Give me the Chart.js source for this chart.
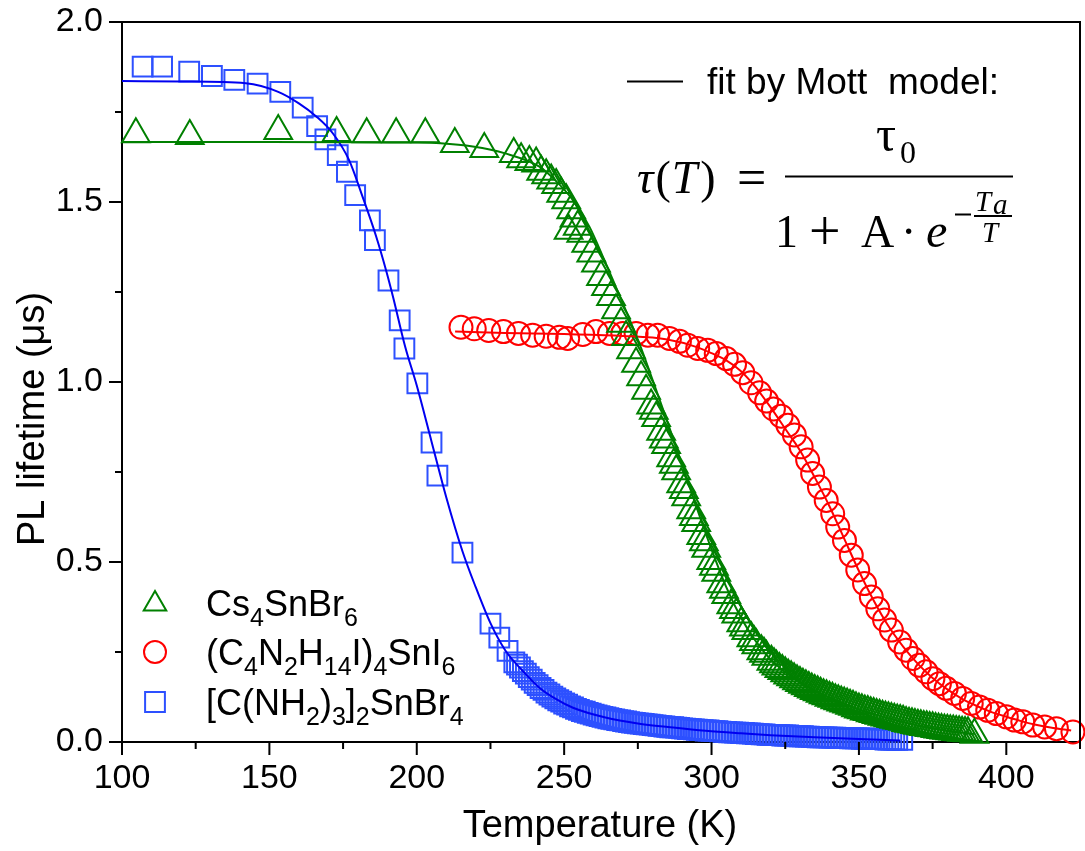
<!DOCTYPE html>
<html lang="en">
<head>
<meta charset="UTF-8">
<title>PL lifetime vs temperature</title>
<script src="https://cdn.jsdelivr.net/npm/chart.js@4"></script>
<style>
  html, body { margin: 0; padding: 0; background: #fff; }
  #wrap { width: 1085px; height: 851px; }
</style>
</head>
<body>
<div id="wrap"><canvas id="plChart" width="1085" height="851"></canvas></div>
<script>
// axis ticks
const xTicks = [100, 150, 200, 250, 300, 350, 400];
const xMinor = [125, 175, 225, 275, 325, 375, 425];
const yTicks = [0, 0.5, 1.0, 1.5, 2.0];
const yMinor = [0.25, 0.75, 1.25, 1.75];

// Cs4SnBr6 (green triangles)
const cs4T = [104.7, 123.0, 153.0, 172.8, 183.0, 193.0, 202.9, 212.9, 222.9, 232.9,
  235.4, 238.2, 240.5, 242.2, 243.9, 245.6, 247.3, 249.0, 250.7, 251.5,
  252.4, 253.5, 254.6, 255.8, 257.5, 259.2, 260.8, 262.5, 264.2, 265.9,
  267.6, 269.3, 271.0, 272.7, 274.4, 276.1, 277.8, 279.5, 281.2, 282.9,
  284.6, 286.3, 288.0, 289.7, 291.4, 293.1, 294.8, 296.5, 298.2, 299.9,
  301.6, 303.3, 305.0, 306.7, 308.4, 310.1, 311.8, 313.5, 315.2, 316.9,
  318.6, 320.3, 322.0, 324, 326, 328, 330, 332, 334, 336,
  338, 340, 342, 344, 346, 348, 350, 352, 354, 356,
  358, 360, 362, 364, 366, 368, 370, 372, 374, 376,
  378, 380, 382, 384, 386, 389.2];
const cs4Tau = [1.688, 1.683, 1.697, 1.692, 1.688, 1.688, 1.688, 1.661, 1.647, 1.633,
  1.619, 1.611, 1.607, 1.584, 1.574, 1.560, 1.547, 1.523, 1.505, 1.420,
  1.477, 1.454, 1.431, 1.412, 1.384, 1.357, 1.329, 1.292, 1.264, 1.236,
  1.199, 1.162, 1.125, 1.088, 1.051, 1.013, 0.976, 0.935, 0.900, 0.862,
  0.825, 0.788, 0.752, 0.716, 0.680, 0.644, 0.608, 0.572, 0.537, 0.503,
  0.470, 0.438, 0.408, 0.380, 0.354, 0.330, 0.308, 0.288, 0.269, 0.252,
  0.237, 0.223, 0.210, 0.197, 0.185, 0.174, 0.164, 0.155, 0.146, 0.138,
  0.130, 0.123, 0.116, 0.110, 0.104, 0.098, 0.090, 0.085, 0.080, 0.075,
  0.070, 0.066, 0.062, 0.058, 0.053, 0.049, 0.045, 0.042, 0.039, 0.036,
  0.033, 0.031, 0.029, 0.027, 0.025, 0.020];
// second, interleaved run of the dense part
const cs4T2 = [280.4, 283.8, 287.2, 290.6, 294.0, 297.4, 300.8, 304.2, 307.6, 311.0, 314.4, 317.8, 321.2,
  323, 325, 327, 329, 331, 333, 335, 337, 339, 341, 343, 345, 347, 349, 351, 353, 355,
  357, 359, 361, 363, 365, 367, 369, 371, 373, 375, 377, 379, 381, 383, 385, 387];
const cs4Tau2 = [0.920, 0.840, 0.770, 0.700, 0.625, 0.555, 0.487, 0.423, 0.367, 0.318, 0.278, 0.245, 0.216,
  0.203, 0.191, 0.180, 0.169, 0.159, 0.150, 0.142, 0.134, 0.127, 0.120, 0.113, 0.107, 0.101, 0.094, 0.088, 0.083, 0.078,
  0.073, 0.068, 0.064, 0.060, 0.056, 0.051, 0.047, 0.044, 0.041, 0.038, 0.035, 0.032, 0.030, 0.028, 0.026, 0.024];
const cs4FitT = [100, 150, 200, 208, 219, 230, 241.6, 247, 252.9, 258.6, 264.1, 269.9, 275.5, 281.2,
  285, 290, 295, 300, 305, 310, 315, 320, 330, 340, 350, 360, 370, 380, 389];
const cs4FitTau = [1.667, 1.667, 1.665, 1.663, 1.654, 1.635, 1.598, 1.560, 1.506, 1.431, 1.330, 1.219, 1.107, 0.978,
  0.890, 0.770, 0.650, 0.535, 0.430, 0.345, 0.280, 0.230, 0.165, 0.123, 0.090, 0.066, 0.046, 0.032, 0.022];

// (C4N2H14I)4SnI6 (red circles)
const snI6T = [215.0, 219.5, 224.4, 229.4, 234.5, 239.3, 243.9, 248.4, 251.2, 256.3,
  260.8, 265.4, 269.9, 274.4, 278.4, 281.7, 285.7, 289.1, 291.9, 295.3,
  298.7, 301.6, 305.0, 307.8, 310.6, 313.4, 316.3, 318.7, 321.0, 323.6,
  325.9, 328.1, 330.4, 332.6, 334.3, 336.6, 338.9, 341.1, 342.8, 345.1,
  347.4, 349.6, 351.9, 354.2, 356.4, 358.7, 361.0, 363.8, 366.0, 368.3,
  370.5, 372.8, 375.1, 377.3, 379.6, 382.4, 385.2, 388.1, 390.9, 393.7,
  396.6, 400.0, 402.8, 405.6, 409.0, 413.0, 417.0, 422.6];
const snI6Tau = [1.152, 1.148, 1.143, 1.140, 1.135, 1.130, 1.127, 1.124, 1.121, 1.132,
  1.140, 1.135, 1.135, 1.135, 1.130, 1.130, 1.121, 1.113, 1.102, 1.093,
  1.088, 1.079, 1.065, 1.049, 1.026, 0.998, 0.970, 0.947, 0.925, 0.905,
  0.880, 0.853, 0.820, 0.783, 0.746, 0.708, 0.671, 0.634, 0.597, 0.560,
  0.519, 0.478, 0.440, 0.403, 0.370, 0.339, 0.311, 0.278, 0.255, 0.232,
  0.213, 0.195, 0.176, 0.162, 0.149, 0.135, 0.121, 0.107, 0.097, 0.088,
  0.079, 0.070, 0.061, 0.056, 0.047, 0.042, 0.037, 0.028];
const snI6FitT = [213, 230, 250, 270, 285, 295, 300, 305, 310, 315, 320, 325, 330, 335, 340, 345,
  350, 355, 360, 365, 370, 375, 380, 385, 390, 395, 400, 405, 410, 415, 422];
const snI6FitTau = [1.140, 1.136, 1.133, 1.128, 1.118, 1.097, 1.080, 1.060, 1.030, 0.985, 0.930, 0.870, 0.810, 0.735, 0.655, 0.565,
  0.475, 0.393, 0.322, 0.265, 0.217, 0.178, 0.146, 0.120, 0.100, 0.083, 0.070, 0.058, 0.048, 0.040, 0.032];

// [C(NH2)3]2SnBr4 (blue squares)
const gaT = [107.0, 113.6, 122.8, 130.5, 138.1, 146.0, 153.7, 161.3, 166.2, 169.0,
  173.2, 176.3, 179.1, 184.1, 185.8, 190.4, 194.2, 195.8, 200.2, 205.0,
  207.0, 215.5, 225.0, 228.0, 230.8, 233.1,
  234, 236, 238, 240, 242, 244, 246, 248, 250, 252, 254, 256, 258, 260, 262, 264,
  266, 268, 270, 272, 274, 276, 278, 280, 282, 284, 286, 288, 290, 292, 294, 296,
  298, 300, 302, 304, 306, 308, 310, 312, 314, 316, 318, 320, 322, 324, 326, 328,
  330, 332, 334, 336, 338, 340, 342, 344, 346, 348, 350, 352, 354, 356, 358, 360,
  362, 364.7];
const gaTau = [1.876, 1.876, 1.862, 1.850, 1.839, 1.829, 1.806, 1.762, 1.711, 1.674,
  1.630, 1.584, 1.519, 1.449, 1.394, 1.282, 1.171, 1.093, 0.996, 0.832,
  0.740, 0.526, 0.329, 0.290, 0.253, 0.221,
  0.215, 0.197, 0.180, 0.164, 0.150, 0.137, 0.126, 0.116, 0.107, 0.099, 0.092, 0.086, 0.081, 0.076, 0.072, 0.068,
  0.064, 0.061, 0.058, 0.055, 0.053, 0.051, 0.049, 0.047, 0.045, 0.043, 0.041, 0.040, 0.038, 0.036, 0.035, 0.033,
  0.032, 0.031, 0.030, 0.028, 0.027, 0.026, 0.025, 0.024, 0.023, 0.022, 0.021, 0.020, 0.019, 0.018, 0.018, 0.017,
  0.016, 0.015, 0.014, 0.013, 0.013, 0.012, 0.012, 0.011, 0.011, 0.010, 0.010, 0.009, 0.009, 0.008, 0.008, 0.007,
  0.007, 0.006];
const gaT2 = [235, 237, 239, 241, 243, 245, 247, 249, 251, 253, 255, 257, 259, 261, 263, 265, 267, 269, 271, 273,
  275, 277, 279, 281, 283, 285, 287, 289, 291, 293, 295, 297, 299, 301, 303, 305, 307, 309, 311, 313,
  315, 317, 319, 321, 323, 325, 327, 329, 331, 333, 335, 337, 339, 341, 343, 345, 347, 349, 351, 353,
  355, 357, 359, 361, 363];
const gaTau2 = [0.207, 0.190, 0.173, 0.158, 0.145, 0.132, 0.121, 0.112, 0.104, 0.096, 0.089, 0.084, 0.079, 0.074, 0.070, 0.066, 0.063, 0.060, 0.057, 0.054,
  0.052, 0.050, 0.048, 0.046, 0.044, 0.042, 0.041, 0.039, 0.037, 0.036, 0.034, 0.033, 0.032, 0.030, 0.029, 0.028, 0.027, 0.026, 0.025, 0.024,
  0.022, 0.021, 0.020, 0.020, 0.019, 0.018, 0.017, 0.016, 0.016, 0.015, 0.014, 0.013, 0.013, 0.012, 0.011, 0.011, 0.010, 0.010, 0.009, 0.009,
  0.008, 0.008, 0.007, 0.007, 0.006];
const gaFitT = [100, 120, 142, 153, 160, 166, 171.5, 177, 181.6, 186.2, 189.6, 192, 196, 200, 205, 210, 215.5,
  220, 225, 230, 236, 241.6, 247.3, 253, 264, 275.5, 287, 298, 310, 320, 335, 350, 364];
const gaFitTau = [1.836, 1.835, 1.830, 1.806, 1.774, 1.737, 1.691, 1.617, 1.515, 1.405, 1.310, 1.235, 1.100, 0.990, 0.835, 0.680, 0.530,
  0.430, 0.330, 0.255, 0.197, 0.151, 0.119, 0.095, 0.068, 0.051, 0.040, 0.031, 0.024, 0.019, 0.013, 0.008, 0.004];

const GREEN = '#008000', RED = '#ff0000', BLUE_PT = '#2d50ff', BLUE_LN = '#0000f0';
const SANS = '"Liberation Sans", Arial, sans-serif';
const SERIF = '"Liberation Serif", "Times New Roman", serif';

function pts(xs, ys) {
  return xs.map((x, i) => ({ x: x, y: ys[i] }));
}

function markerSet(label, xs, ys, style, radius, color) {
  return {
    label: label,
    data: pts(xs, ys),
    showLine: false,
    pointStyle: style,
    pointRadius: radius,
    pointBorderWidth: 2,
    pointBorderColor: color,
    pointBackgroundColor: 'rgba(0,0,0,0)',
    clip: false
  };
}

function fitSet(label, xs, ys, color) {
  return {
    label: label,
    data: pts(xs, ys),
    showLine: true,
    borderColor: color,
    borderWidth: 2,
    pointRadius: 0,
    cubicInterpolationMode: 'monotone',
    clip: false
  };
}

// small marker for the legend (same shapes as chart.js)
function drawMarker(ctx, style, x, y, r, color) {
  ctx.save();
  ctx.strokeStyle = color;
  ctx.lineWidth = 2;
  ctx.beginPath();
  if (style === 'triangle') {
    let a = 0;
    ctx.moveTo(x + Math.sin(a) * r, y - Math.cos(a) * r);
    a += 2 * Math.PI / 3;
    ctx.lineTo(x + Math.sin(a) * r, y - Math.cos(a) * r);
    a += 2 * Math.PI / 3;
    ctx.lineTo(x + Math.sin(a) * r, y - Math.cos(a) * r);
    ctx.closePath();
  } else if (style === 'circle') {
    ctx.arc(x, y, r, 0, Math.PI * 2);
  } else {
    const s = Math.SQRT1_2 * r;
    ctx.rect(x - s, y - s, 2 * s, 2 * s);
  }
  ctx.stroke();
  ctx.restore();
}

// text with subscripts: [text, isSub]
function drawChem(ctx, parts, x, y) {
  parts.forEach(function (p) {
    ctx.font = p[1] ? '25px ' + SANS : '36px ' + SANS;
    ctx.fillText(p[0], x, p[1] ? y + 10 : y);
    x += ctx.measureText(p[0]).width;
  });
}

const overlay = {
  id: 'overlay',
  afterDatasetsDraw(chart) {
    const ctx = chart.ctx;
    const { left, right, top, bottom } = chart.chartArea;
    const xs = chart.scales.x, ys = chart.scales.y;
    ctx.save();
    ctx.strokeStyle = '#000';
    ctx.lineWidth = 2;

    // frame top + right
    ctx.beginPath();
    ctx.moveTo(left - 1, top);
    ctx.lineTo(right, top);
    ctx.lineTo(right, bottom);
    ctx.stroke();

    // outward ticks
    ctx.beginPath();
    xTicks.forEach(v => { const p = xs.getPixelForValue(v); ctx.moveTo(p, bottom); ctx.lineTo(p, bottom + 13); });
    xMinor.forEach(v => { const p = xs.getPixelForValue(v); ctx.moveTo(p, bottom); ctx.lineTo(p, bottom + 7); });
    yTicks.forEach(v => { const p = ys.getPixelForValue(v); ctx.moveTo(left, p); ctx.lineTo(left - 13, p); });
    yMinor.forEach(v => { const p = ys.getPixelForValue(v); ctx.moveTo(left, p); ctx.lineTo(left - 7, p); });
    ctx.stroke();

    // axis titles
    ctx.fillStyle = '#000';
    ctx.font = '38px ' + SANS;
    ctx.textAlign = 'center';
    ctx.textBaseline = 'alphabetic';
    ctx.fillText('Temperature (K)', 600, 837);
    ctx.save();
    ctx.translate(44, 419);
    ctx.rotate(-Math.PI / 2);
    ctx.fillText('PL lifetime (\u03BCs)', 0, 0);
    ctx.restore();

    // legend
    ctx.textAlign = 'left';
    drawMarker(ctx, 'triangle', 155, 604, 13, GREEN);
    drawChem(ctx, [['Cs', 0], ['4', 1], ['SnBr', 0], ['6', 1]], 206, 616);
    drawMarker(ctx, 'circle', 155, 652, 11, RED);
    drawChem(ctx, [['(C', 0], ['4', 1], ['N', 0], ['2', 1], ['H', 0], ['14', 1], ['I)', 0], ['4', 1], ['SnI', 0], ['6', 1]], 206, 665);
    drawMarker(ctx, 'rect', 155, 702, 14, BLUE_PT);
    drawChem(ctx, [['[C(NH', 0], ['2', 1], [')', 0], ['3', 1], [']', 0], ['2', 1], ['SnBr', 0], ['4', 1]], 206, 715);

    // fit note
    ctx.beginPath();
    ctx.moveTo(627, 81.5);
    ctx.lineTo(683, 81.5);
    ctx.stroke();
    ctx.font = '37px ' + SANS;
    ctx.fillText('fit by Mott  model:', 707, 94);

    // formula tau(T) = tau0 / (1 + A e^(-Ta/T))
    let x = 637;
    const base = 193;
    ctx.font = 'italic 46px ' + SERIF;
    ctx.fillText('\u03C4', x, base); x += ctx.measureText('\u03C4').width + 2;
    ctx.font = '46px ' + SERIF;
    ctx.fillText('(', x, base); x += ctx.measureText('(').width + 1;
    ctx.font = 'italic 46px ' + SERIF;
    ctx.fillText('T', x, base); x += ctx.measureText('T').width + 3;
    ctx.font = '46px ' + SERIF;
    ctx.fillText(')', x, base);
    ctx.font = '52px ' + SERIF;
    ctx.fillText('=', 737, base + 2);

    ctx.beginPath();
    ctx.moveTo(785, 176.5);
    ctx.lineTo(1013, 176.5);
    ctx.stroke();

    ctx.font = '50px ' + SERIF;
    ctx.fillText('\u03C4', 876, 151);
    ctx.font = '32px ' + SERIF;
    ctx.fillText('0', 900, 163);

    ctx.font = '46px ' + SERIF;
    ctx.fillText('1', 775, 247);
    ctx.font = '56px ' + SERIF;
    ctx.fillText('+', 809, 250);
    ctx.font = '46px ' + SERIF;
    ctx.fillText('A', 861, 247);
    ctx.fillText('\u00B7', 901, 247);
    ctx.font = 'italic 48px ' + SERIF;
    ctx.fillText('e', 926, 247);

    ctx.beginPath();
    ctx.moveTo(955, 214.5);
    ctx.lineTo(971, 214.5);
    ctx.moveTo(974, 216);
    ctx.lineTo(1012, 216);
    ctx.stroke();
    ctx.font = 'italic 29px ' + SERIF;
    ctx.fillText('T', 975, 211);
    ctx.fillText('a', 993, 214);
    ctx.fillText('T', 982, 242);

    ctx.restore();
  }
};

const data = {
  datasets: [
    fitSet('Cs4SnBr6 fit', cs4FitT, cs4FitTau, GREEN),
    fitSet('(C4N2H14I)4SnI6 fit', snI6FitT, snI6FitTau, RED),
    fitSet('[C(NH2)3]2SnBr4 fit', gaFitT, gaFitTau, BLUE_LN),
    markerSet('Cs4SnBr6', cs4T.concat(cs4T2), cs4Tau.concat(cs4Tau2), 'triangle', 16, GREEN),
    markerSet('(C4N2H14I)4SnI6', snI6T, snI6Tau, 'circle', 11.5, RED),
    markerSet('[C(NH2)3]2SnBr4', gaT.concat(gaT2), gaTau.concat(gaTau2), 'rect', 14, BLUE_PT)
  ]
};

new Chart(document.getElementById('plChart').getContext('2d'), {
  type: 'scatter',
  data: data,
  options: {
    responsive: false,
    animation: false,
    devicePixelRatio: 1,
    layout: { autoPadding: false, padding: { top: 22, right: 5, left: 0, bottom: 0 } },
    plugins: { legend: { display: false }, tooltip: { enabled: false } },
    scales: {
      x: {
        type: 'linear',
        min: 100,
        max: 425,
        afterBuildTicks: s => { s.ticks = xTicks.map(v => ({ value: v })); },
        afterFit: s => { s.height = 109; s.paddingLeft = 0; s.paddingRight = 0; },
        grid: { display: false, drawTicks: false },
        border: { display: true, color: '#000', width: 2 },
        ticks: { color: '#000', font: { family: SANS, size: 34 }, padding: 16, maxRotation: 0 },
        title: { display: false }
      },
      y: {
        type: 'linear',
        min: 0,
        max: 2,
        afterBuildTicks: s => { s.ticks = yTicks.map(v => ({ value: v })); },
        afterFit: s => { s.width = 122; s.paddingTop = 0; s.paddingBottom = 0; },
        grid: { display: false, drawTicks: false },
        border: { display: true, color: '#000', width: 2 },
        ticks: { color: '#000', font: { family: SANS, size: 34 }, padding: 19, callback: v => v.toFixed(1) },
        title: { display: false }
      }
    }
  },
  plugins: [overlay]
});
</script>
</body>
</html>
